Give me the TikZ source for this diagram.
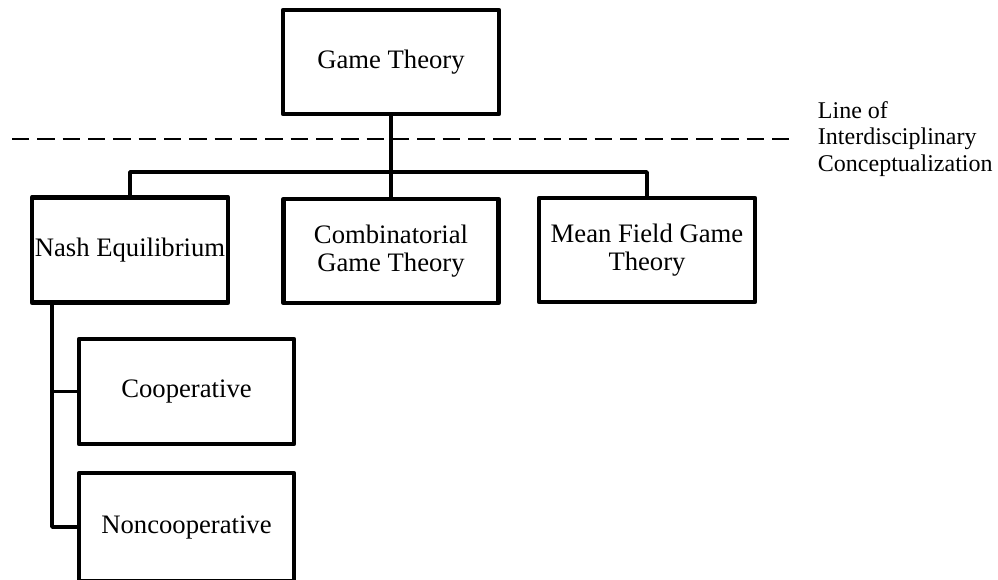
\documentclass[tikz,border=0pt]{standalone}
\usepackage{fontspec}
\setmainfont{Liberation Serif}
\usetikzlibrary{positioning}
\begin{document}
\begin{tikzpicture}[x=0.75pt,y=-0.75pt,
  box/.style={draw,line width=3.4pt,line join=round,minimum width=162pt,minimum height=78pt,
    align=center,inner sep=1pt,font=\fontsize{20}{21}\selectfont},
  link/.style={line width=2.8pt,line join=round},
  divider/.style={line width=1.25pt,dash pattern=on 13pt off 6pt}]
\useasboundingbox (0,0) rectangle (998,579);
\node[box] (game) at (391,62) {Game Theory};
\node[box,minimum width=147pt,minimum height=79pt] (nash) at (130,250) {Nash Equilibrium};
\node[box,minimum width=161pt] (comb) at (391,251) {Combinatorial\\Game Theory};
\node[box] (mfg) at (647,250) {Mean Field Game\\Theory};
\node[box,minimum width=161pt,minimum height=79pt] (coop) at (186.5,391.5) {Cooperative};
\node[box,minimum width=161pt,minimum height=81pt] (noncoop) at (186.5,527) {Noncooperative};
\coordinate (bar) at (391,172);
\coordinate (spine) at (52,304);
\coordinate (dashL) at (12,139);
\coordinate (dashR) at (795,139);
\draw[divider] (dashL) -- (dashR);
\node[right=17pt of dashR,inner sep=0pt,align=left,font=\fontsize{18}{20}\selectfont] (lineof)
  {Line of\\Interdisciplinary\\Conceptualization};
\draw[link] (game.south) -- (comb.north);
\draw[link] (nash.north) |- (bar) -| (mfg.north);
\draw[link] (nash.south -| spine) |- (noncoop.west);
\draw[link] (spine |- coop.west) -- (coop.west);
\end{tikzpicture}
\end{document}
